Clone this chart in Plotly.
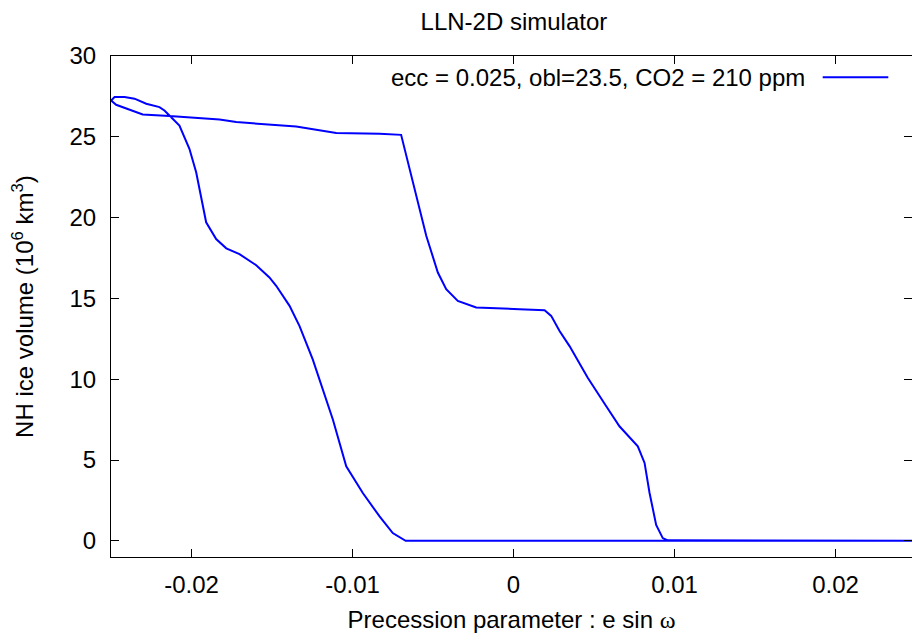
import plotly.graph_objects as go

# Path of the hysteresis loop, in drawing order
esinw = [0.0, 0.025, -0.0067, -0.0075, -0.00832, -0.00936, -0.01039, -0.01122,
         -0.01184, -0.01247, -0.01329, -0.01391, -0.01474, -0.01516, -0.01598,
         -0.01702, -0.01784, -0.01847, -0.01909, -0.0194, -0.01971, -0.02013,
         -0.02075, -0.02137, -0.02168, -0.02199, -0.02281, -0.02354, -0.02416,
         -0.02478, -0.02499, -0.02468, -0.02385, -0.02323, -0.02303, -0.02137,
         -0.01826, -0.01722, -0.0135, -0.01101, -0.00832, -0.00698, -0.00646,
         -0.00604, -0.00542, -0.0047, -0.00418, -0.00346, -0.00232, 0.00037,
         0.00193, 0.00234, 0.00286, 0.00348, 0.00461, 0.00576, 0.00658,
         0.00772, 0.00814, 0.00845, 0.00886, 0.00927, 0.00958, 0.025]
ice_volume = [0.0, 0.0, 0.0, 0.48, 1.51, 2.96, 4.61, 7.51,
              9.37, 11.23, 13.29, 14.54, 15.78, 16.3, 17.05,
              17.74, 18.1, 18.67, 19.71, 21.36, 22.81, 24.26,
              25.7, 26.32, 26.63, 26.84, 27.05, 27.36, 27.46,
              27.46, 27.25, 26.98, 26.69, 26.43, 26.38, 26.28,
              26.07, 25.91, 25.64, 25.23, 25.19, 25.12, 23.0,
              21.36, 18.88, 16.6, 15.57, 14.85, 14.44, 14.33,
              14.27, 13.92, 12.98, 12.05, 10.09, 8.33, 7.09,
              5.85, 4.82, 2.96, 0.99, 0.17, 0.03, 0.0]

x_tickvals = [-0.02, -0.01, 0, 0.01, 0.02]
x_ticktext = ["-0.02", "-0.01", "0", "0.01", "0.02"]
y_tickvals = [0, 5, 10, 15, 20, 25, 30]
y_ticktext = ["0", "5", "10", "15", "20", "25", "30"]

series_label = "ecc = 0.025, obl=23.5, CO2 = 210 ppm"
FONT = "Liberation Sans, Arial, sans-serif"
FS = 24

fig = go.Figure()
fig.add_trace(go.Scatter(x=esinw, y=ice_volume, mode="lines",
                         line=dict(color="#0000ff", width=2),
                         name=series_label, showlegend=False))
# invisible trace on a right-hand axis for the mirrored y ticks (no right border line)
fig.add_trace(go.Scatter(x=[esinw[0]], y=[ice_volume[0]], yaxis="y2",
                         mode="lines", line=dict(width=0), showlegend=False,
                         hoverinfo="skip"))

fig.update_layout(
    width=912, height=636,
    margin=dict(l=111, r=0, t=56, b=79),
    paper_bgcolor="white", plot_bgcolor="white",
    font=dict(family=FONT, size=FS, color="black"),
    title=dict(text="LLN-2D simulator", x=0.503, xref="paper", xanchor="center",
               y=1 - 21.5 / 636, yanchor="middle", font=dict(size=FS)),
    xaxis=dict(range=[-0.025, 0.02475], tickvals=x_tickvals, ticktext=x_ticktext,
               ticks="inside", ticklen=8, tickwidth=1, tickcolor="black",
               showline=True, linecolor="black", linewidth=1, mirror="ticks",
               showgrid=False, zeroline=False, ticklabelstandoff=6,
               title=dict(text="Precession parameter : e sin <span style='font-family:Liberation Serif'>ω</span>",
                          standoff=14, font=dict(size=FS))),
    yaxis=dict(range=[-1, 30], tickvals=y_tickvals, ticktext=y_ticktext,
               ticks="inside", ticklen=8, tickwidth=1, tickcolor="black",
               showline=True, linecolor="black", linewidth=1,
               showgrid=False, zeroline=False, ticklabelstandoff=9,
               title=dict(text="NH ice volume (10<sup>6</sup> km<sup>3</sup>)",
                          standoff=29, font=dict(size=FS))),
    yaxis2=dict(overlaying="y", side="right", matches="y", range=[-1, 30],
                tickvals=y_tickvals, ticks="inside", ticklen=8, tickwidth=1,
                tickcolor="black", showticklabels=False, showline=False,
                showgrid=False, zeroline=False),
    annotations=[dict(text=series_label, xref="paper", yref="paper",
                      x=0.8685, y=0.9575, xanchor="right", yanchor="middle",
                      showarrow=False, font=dict(size=FS))],
    shapes=[dict(type="line", xref="paper", yref="paper",
                 x0=0.8885, x1=0.9704, y0=0.9575, y1=0.9575,
                 line=dict(color="#0000ff", width=2))],
)

fig.write_html("out.html", config={"displayModeBar": False},
               post_script="document.body.style.margin='0px';document.body.style.overflow='hidden';")
